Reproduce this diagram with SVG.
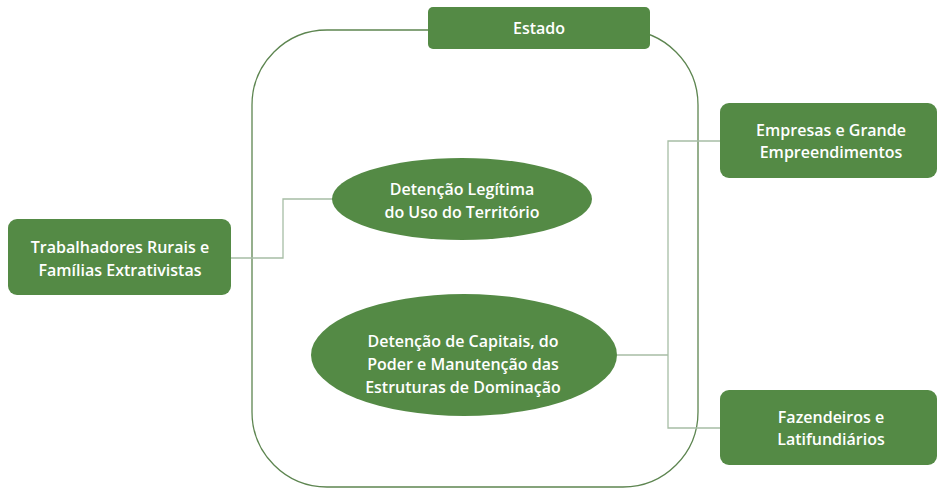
<svg xmlns="http://www.w3.org/2000/svg" width="938" height="488" viewBox="0 0 938 488">
<style>
.box{fill:#548a45;}
.t{fill:#ffffff;font-family:"Open Sans","Liberation Sans",sans-serif;font-weight:600;font-size:16px;text-anchor:middle;}
.c{fill:none;stroke:#a7bda5;stroke-width:1.3;}
.frame{fill:none;stroke:#5d8550;stroke-width:1.3;}
</style>
<rect width="938" height="488" fill="#ffffff"/>
<g id="estado-frame">
<rect class="frame" x="252" y="30" width="446" height="457" rx="75" ry="75"/>
</g>
<g id="connectors">
<path class="c" d="M231,258 H283 V199 H334"/>
<path class="c" d="M617,355 H668"/>
<path class="c" d="M720,141 H668 V428 H720"/>
</g>
<g id="estado">
<rect class="box" x="428" y="7" width="222" height="42" rx="5"/>
<text class="t" x="539" y="34">Estado</text>
</g>
<g id="trabalhadores">
<rect class="box" x="8" y="219" width="223" height="76" rx="9"/>
<text class="t" x="120" y="253">Trabalhadores Rurais e</text>
<text class="t" x="120" y="276">Famílias Extrativistas</text>
</g>
<g id="detencao-territorio">
<ellipse class="box" cx="462" cy="199" rx="130" ry="41"/>
<text class="t" x="462" y="195">Detenção Legítima</text>
<text class="t" x="462" y="218">do Uso do Território</text>
</g>
<g id="detencao-capitais">
<ellipse class="box" cx="464" cy="355" rx="153" ry="61"/>
<text class="t" x="463" y="347">Detenção de Capitais, do</text>
<text class="t" x="463" y="370">Poder e Manutenção das</text>
<text class="t" x="463" y="393">Estruturas de Dominação</text>
</g>
<g id="empresas">
<rect class="box" x="720" y="103" width="217" height="75" rx="9"/>
<text class="t" x="831" y="136">Empresas e Grande</text>
<text class="t" x="831" y="158">Empreendimentos</text>
</g>
<g id="fazendeiros">
<rect class="box" x="720" y="390" width="217" height="75" rx="9"/>
<text class="t" x="831" y="423">Fazendeiros e</text>
<text class="t" x="831" y="445">Latifundiários</text>
</g>
</svg>
